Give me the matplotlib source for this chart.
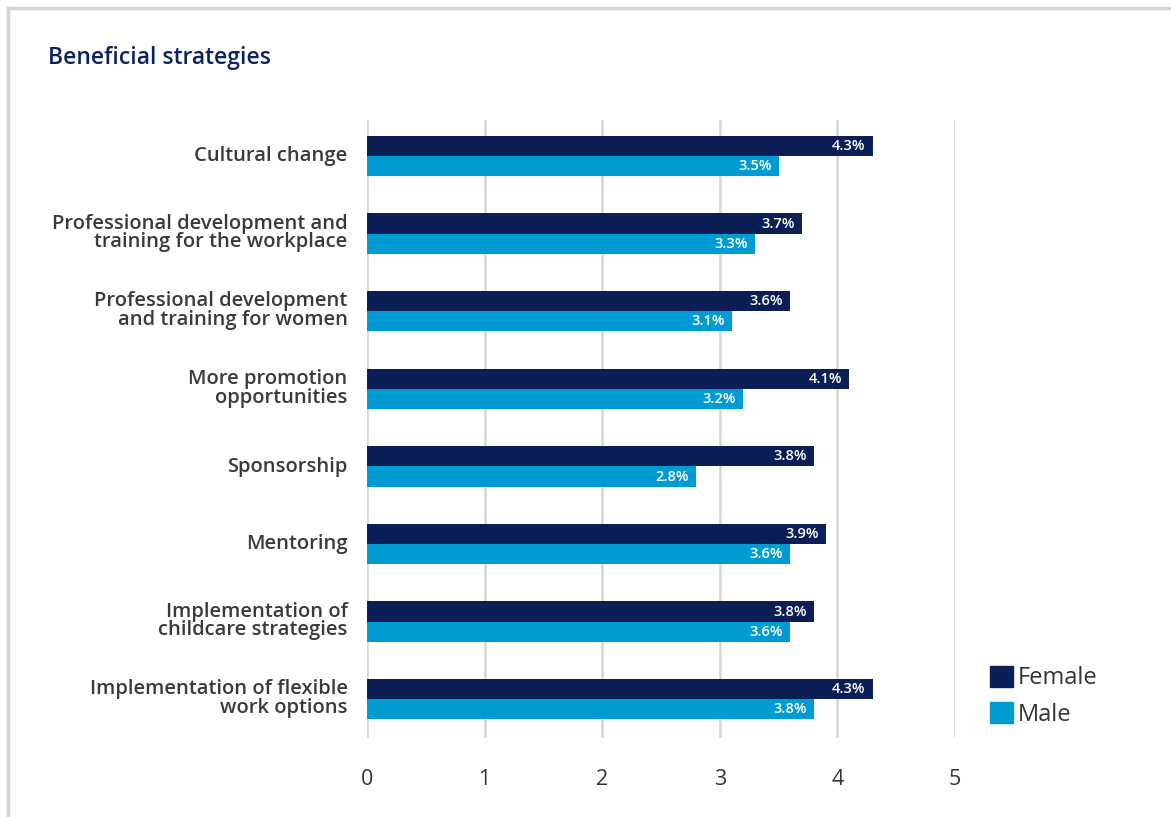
import matplotlib.pyplot as plt
from matplotlib.lines import Line2D
from matplotlib.patches import Patch

plt.rcParams['font.family'] = ['Open Sans', 'DejaVu Sans']

categories = [
    "Cultural change",
    "Professional development and\ntraining for the workplace",
    "Professional development\nand training for women",
    "More promotion\nopportunities",
    "Sponsorship",
    "Mentoring",
    "Implementation of\nchildcare strategies",
    "Implementation of flexible\nwork options",
]
female = [4.3, 3.7, 3.6, 4.1, 3.8, 3.9, 3.8, 4.3]
male = [3.5, 3.3, 3.1, 3.2, 2.8, 3.6, 3.6, 3.8]
ticks = [0, 1, 2, 3, 4, 5]

navy = "#0c1e56"
blue = "#009bd3"
text_col = "#333333"

fig = plt.figure(figsize=(11.71, 8.17), dpi=100)
ax = fig.add_axes([367 / 1171, 1 - 738 / 817, 588 / 1171, 618 / 817])

h = 0.26
ys = list(range(len(categories)))
yf = [y - h / 2 for y in ys]
ym = [y + h / 2 for y in ys]
ax.barh(yf, female, height=h, color=navy, zorder=3)
ax.barh(ym, male, height=h, color=blue, zorder=3)

for y, v in zip(yf, female):
    ax.text(v - 0.06, y, f"{v:.1f}%", color="white", fontsize=10.5,
            fontweight="semibold", ha="right", va="center", zorder=4)
for y, v in zip(ym, male):
    ax.text(v - 0.06, y, f"{v:.1f}%", color="white", fontsize=10.5,
            fontweight="semibold", ha="right", va="center", zorder=4)

ax.set_xlim(0, 5)
ax.set_ylim(7.5, -0.465)
ax.set_xticks(ticks)
ax.set_xticklabels([str(t) for t in ticks], fontsize=15.5, color=text_col)
ax.set_yticks([y - 0.03 for y in ys])
ax.set_yticklabels(categories, fontsize=14.5, fontweight="semibold",
                   color="#3a3a3a", linespacing=0.9)
ax.tick_params(axis="y", length=0, pad=14)
ax.tick_params(axis="x", length=0, pad=22)
ax.grid(axis="x", color="#d9d9d9", linewidth=2, zorder=0)
for s in ax.spines.values():
    s.set_visible(False)

fig.text(48 / 1171, 1 - 58 / 817, "Beneficial strategies", fontsize=16.5,
         fontweight="semibold", color="#0d2360", ha="left", va="center")

handles = [Patch(color=navy, label="Female"), Patch(color=blue, label="Male")]
fig.legend(handles=handles, loc="upper left",
           bbox_to_anchor=(978 / 1171, 1 - 654 / 817), frameon=False,
           fontsize=17, handlelength=1.0, handleheight=1.0,
           handletextpad=0.2, labelspacing=0.5, borderpad=0,
           labelcolor=text_col)

# light frame on the top and left edges
fig.add_artist(Line2D([8 / 1171, 8 / 1171], [0, 1 - 8 / 817],
                      transform=fig.transFigure, color="#d4d4d4", linewidth=2.5))
fig.add_artist(Line2D([8 / 1171, 1], [1 - 8 / 817, 1 - 8 / 817],
                      transform=fig.transFigure, color="#d4d4d4", linewidth=2.5))

fig.savefig("out.png", dpi=100)
